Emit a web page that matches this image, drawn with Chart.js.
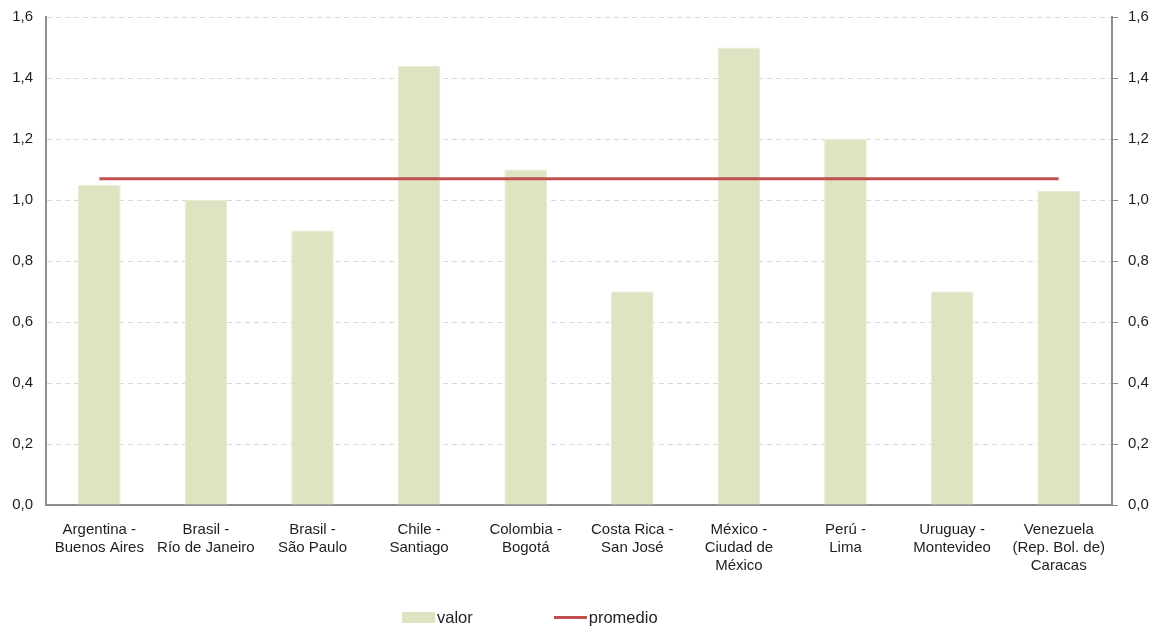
<!DOCTYPE html>
<html>
<head>
<meta charset="utf-8">
<title>valor / promedio</title>
<script src="https://cdn.jsdelivr.net/npm/chart.js@4/dist/chart.umd.min.js"></script>
<style>
  html, body { margin: 0; padding: 0; background: #fff; }
  #wrap { position: relative; width: 1152px; height: 629px; }
  #legend {
    position: absolute; left: 402px; top: 608px;
    display: flex; align-items: center;
    font: 16.5px "Liberation Sans", Arial, sans-serif; color: #222;
  }
  #legend .item { display: flex; align-items: center; }
  #legend .item + .item { margin-left: 81px; }
  #legend .swatch { width: 33px; margin-right: 2px; }
</style>
</head>
<body>
<div id="wrap">
  <canvas id="chart" width="1152" height="629"></canvas>
  <div id="legend"></div>
</div>
<script>
const categories = [
  ['Argentina -', 'Buenos Aires'],
  ['Brasil -', 'Río de Janeiro'],
  ['Brasil -', 'São Paulo'],
  ['Chile -', 'Santiago'],
  ['Colombia -', 'Bogotá'],
  ['Costa Rica -', 'San José'],
  ['México -', 'Ciudad de', 'México'],
  ['Perú -', 'Lima'],
  ['Uruguay -', 'Montevideo'],
  ['Venezuela', '(Rep. Bol. de)', 'Caracas'],
];
const valor    = [1.05, 1.00, 0.90, 1.44, 1.10, 0.70, 1.50, 1.20, 0.70, 1.03];
const promedio = [1.07, 1.07, 1.07, 1.07, 1.07, 1.07, 1.07, 1.07, 1.07, 1.07];
const yTicks   = [0, 0.2, 0.4, 0.6, 0.8, 1.0, 1.2, 1.4, 1.6];

const BAR_COLOR  = '#dde4c2';
const LINE_COLOR = '#c0504d';
const AXIS_COLOR = '#8e8e8e';

Chart.defaults.font.family = '"Liberation Sans", Arial, sans-serif';
Chart.defaults.font.size = 15;
Chart.defaults.color = '#1e1e1e';

const fmt = (v) => v.toFixed(1).replace('.', ',');

// fixed widths, and no extra top/bottom room for the tick labels
const fitY = (w) => (scale) => {
  scale.width = w;
  scale.paddingTop = 0;
  scale.paddingBottom = 0;
};

const yCommon = {
  min: 0,
  max: 1.6,
  afterBuildTicks: (scale) => { scale.ticks = yTicks.map((v) => ({ value: v })); },
  ticks: { callback: (v) => fmt(v) },
};

const chart = new Chart(document.getElementById('chart'), {
  type: 'bar',
  data: {
    labels: categories,
    datasets: [
      {
        type: 'line',
        label: 'promedio',
        data: promedio,
        borderColor: LINE_COLOR,
        backgroundColor: LINE_COLOR,
        borderWidth: 3,
        pointRadius: 0,
        yAxisID: 'y',
        order: 0,
      },
      {
        label: 'valor',
        data: valor,
        backgroundColor: BAR_COLOR,
        borderColor: '#e6ecd6',
        borderWidth: 1,
        categoryPercentage: 1,
        barPercentage: 0.4,
        yAxisID: 'y',
        order: 1,
      },
    ],
  },
  options: {
    responsive: false,
    animation: false,
    layout: { padding: { top: 17, left: 0, right: 0, bottom: 0 } },
    plugins: { legend: { display: false }, tooltip: { enabled: false } },
    scales: {
      x: {
        grid: { display: false },
        border: { color: AXIS_COLOR, width: 2 },
        ticks: { padding: 8, maxRotation: 0, autoSkip: false, font: { lineHeight: 1.2 } },
        afterFit: (scale) => { scale.height = 124; },
      },
      y: {
        ...yCommon,
        position: 'left',
        grid: { color: '#d9d9d9', lineWidth: 1, drawTicks: false },
        border: { color: AXIS_COLOR, width: 2, dash: [5, 4] },
        ticks: { ...yCommon.ticks, padding: 13 },
        afterFit: fitY(46),
      },
      y2: {
        ...yCommon,
        position: 'right',
        grid: { drawOnChartArea: false, drawTicks: true, tickLength: 6, color: AXIS_COLOR },
        border: { color: AXIS_COLOR, width: 2 },
        ticks: { ...yCommon.ticks, padding: 10 },
        afterFit: fitY(40),
      },
    },
  },
});

// legend built from the datasets, bar first then line
const legend = document.getElementById('legend');
[chart.data.datasets[1], chart.data.datasets[0]].forEach((ds) => {
  const item = document.createElement('div');
  item.className = 'item';
  const sw = document.createElement('span');
  sw.className = 'swatch';
  if (ds.type === 'line') {
    sw.style.height = ds.borderWidth + 'px';
    sw.style.background = ds.borderColor;
  } else {
    sw.style.height = '11px';
    sw.style.background = ds.backgroundColor;
  }
  const txt = document.createElement('span');
  txt.textContent = ds.label;
  item.append(sw, txt);
  legend.append(item);
});
</script>
</body>
</html>
